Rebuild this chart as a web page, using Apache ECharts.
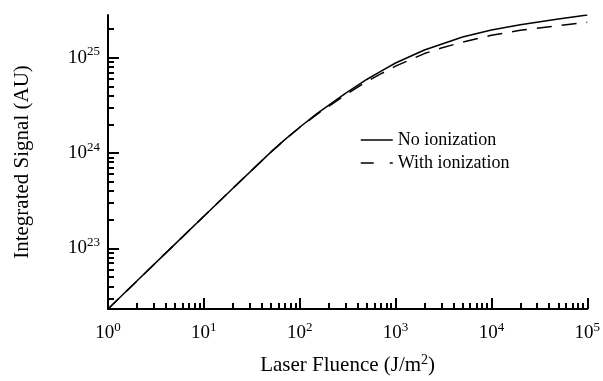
<!DOCTYPE html>
<html>
<head>
<meta charset="utf-8">
<style>
  html, body { margin: 0; padding: 0; background: #fff; }
  #chart { width: 603px; height: 381px; }
</style>
<script src="https://cdn.jsdelivr.net/npm/echarts@6/dist/echarts.min.js"></script>
</head>
<body>
<div id="chart"></div>
<script>
  // fluence values (J/m^2)
  var fluence = [1, 2, 5, 10, 20, 50, 70, 100, 150, 200, 300, 500, 700,
    1000, 2000, 3000, 5000, 10000, 20000, 50000, 100000];
  // integrated signal, no ionization
  var noIonization = [2.32e22, 4.55e22, 1.11e23, 2.17e23, 4.25e23, 1.02e24, 1.38e24,
    1.86e24, 2.57e24, 3.16e24, 4.22e24, 5.89e24, 7.16e24,
    8.77e24, 1.2e25, 1.38e25, 1.64e25, 1.94e25, 2.2e25, 2.54e25, 2.79e25];
  // integrated signal, with ionization
  var withIonization = [2.32e22, 4.55e22, 1.11e23, 2.17e23, 4.25e23, 1.02e24, 1.38e24,
    1.85e24, 2.52e24, 3.08e24, 4.06e24, 5.6e24, 6.73e24,
    8.13e24, 1.1e25, 1.26e25, 1.45e25, 1.71e25, 1.93e25, 2.16e25, 2.34e25];

  var xMajor = [1, 10, 100, 1000, 10000, 100000];
  var yMajor = [1e23, 1e24, 1e25];
  var xMinor = [];
  var yMinor = [];
  var k, m;
  for (k = 0; k < 5; k++) {
    for (m = 2; m <= 9; m++) xMinor.push(m * Math.pow(10, k));
  }
  for (k = 22; k <= 25; k++) {
    for (m = 2; m <= 9; m++) {
      var v = m * Math.pow(10, k);
      if (v > 2.32e22 && v < 2.79e25) yMinor.push(v);
    }
  }

  var FONT = 'Liberation Serif';

  function pow10Label(value) {
    var e = Math.round(Math.log(value) / Math.LN10);
    return '{b|10}{s|' + e + '}';
  }
  var labelRich = {
    b: { fontFamily: FONT, fontSize: 19, color: '#000' },
    s: { fontFamily: FONT, fontSize: 13, color: '#000', padding: [0, 0, 11, 0] }
  };

  function pairs(xs, ys) {
    return xs.map(function (x, i) { return [x, ys[i]]; });
  }

  var option = {
    backgroundColor: '#fff',
    animation: false,
    grid: { left: 108, right: 14, top: 15, bottom: 71 },
    legend: {
      show: true,
      left: 355,
      top: 126,
      orient: 'vertical',
      itemWidth: 32,
      itemHeight: 16,
      itemGap: 5,
      itemStyle: { opacity: 0 },
      textStyle: { fontFamily: FONT, fontSize: 18, color: '#000' },
      data: [
        { name: 'No ionization', lineStyle: { color: '#000', width: 1.5, type: 'solid' } },
        { name: 'With ionization', lineStyle: { color: '#000', width: 1.5, type: [13, 16] } }
      ]
    },
    xAxis: [{
      type: 'log',
      logBase: 10,
      min: 1,
      max: 100000,
      name: 'Laser Fluence (J/m{s|2})',
      nameLocation: 'middle',
      nameGap: 44,
      nameTextStyle: {
        fontFamily: FONT, fontSize: 21, color: '#000',
        rich: { s: { fontFamily: FONT, fontSize: 14, color: '#000', padding: [0, 0, 11, 0] } }
      },
      axisLine: { lineStyle: { color: '#000', width: 2 } },
      axisTick: { inside: true, length: 11, lineStyle: { color: '#000', width: 2 }, customValues: xMajor },
      axisLabel: { margin: 12, formatter: pow10Label, rich: labelRich, customValues: xMajor },
      splitLine: { show: false }
    }, {
      type: 'log',
      logBase: 10,
      min: 1,
      max: 100000,
      position: 'bottom',
      axisLine: { show: false },
      axisTick: { inside: true, length: 6, lineStyle: { color: '#000', width: 2 }, customValues: xMinor },
      axisLabel: { show: false },
      splitLine: { show: false }
    }],
    yAxis: [{
      type: 'log',
      logBase: 10,
      min: 2.32e22,
      max: 2.79e25,
      name: 'Integrated Signal (AU)',
      nameLocation: 'middle',
      nameGap: 75,
      nameTextStyle: { fontFamily: FONT, fontSize: 21, color: '#000' },
      axisLine: { lineStyle: { color: '#000', width: 2 } },
      axisTick: { inside: true, length: 11, lineStyle: { color: '#000', width: 2 }, customValues: yMajor },
      axisLabel: { margin: 8, formatter: pow10Label, rich: labelRich, customValues: yMajor },
      splitLine: { show: false }
    }, {
      type: 'log',
      logBase: 10,
      min: 2.32e22,
      max: 2.79e25,
      position: 'left',
      axisLine: { show: false },
      axisTick: { inside: true, length: 6, lineStyle: { color: '#000', width: 2 }, customValues: yMinor },
      axisLabel: { show: false },
      splitLine: { show: false }
    }],
    series: [
      {
        name: 'No ionization',
        type: 'line',
        symbol: 'none',
        data: pairs(fluence, noIonization),
        lineStyle: { color: '#000', width: 1.5, type: 'solid' },
        itemStyle: { color: '#000' }
      },
      {
        name: 'With ionization',
        type: 'line',
        symbol: 'none',
        data: pairs(fluence, withIonization),
        lineStyle: { color: '#000', width: 1.5, type: [15, 10] },
        itemStyle: { color: '#000' }
      }
    ]
  };

  var myChart = echarts.init(document.getElementById('chart'));
  myChart.setOption(option);
</script>
</body>
</html>
